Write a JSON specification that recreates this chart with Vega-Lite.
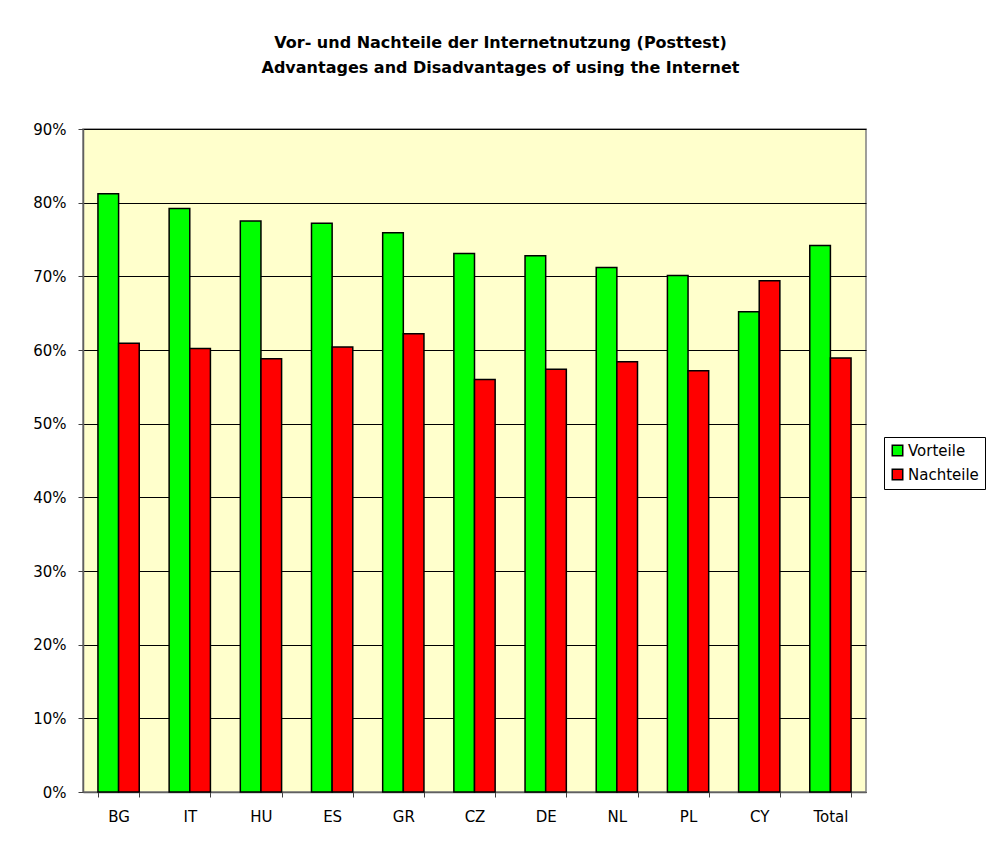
{
  "$schema": "https://vega.github.io/schema/vega-lite/v6.json",
  "width": 783,
  "height": 663,
  "autosize": {"type": "none"},
  "padding": {"left": 83, "top": 129, "right": 134, "bottom": 49},
  "background": "white",
  "title": {
    "text": ["Vor- und Nachteile der Internetnutzung (Posttest)", "Advantages and Disadvantages of using the Internet"],
    "font": "DejaVu Sans",
    "fontSize": 16,
    "fontWeight": "bold",
    "color": "black",
    "lineHeight": 25,
    "anchor": "middle",
    "dx": 26,
    "offset": 46
  },
  "data": {
    "values": [
      {"land": "BG", "typ": "Vorteile", "wert": 0.812},
      {"land": "BG", "typ": "Nachteile", "wert": 0.609},
      {"land": "IT", "typ": "Vorteile", "wert": 0.792},
      {"land": "IT", "typ": "Nachteile", "wert": 0.602},
      {"land": "HU", "typ": "Vorteile", "wert": 0.775},
      {"land": "HU", "typ": "Nachteile", "wert": 0.588},
      {"land": "ES", "typ": "Vorteile", "wert": 0.772},
      {"land": "ES", "typ": "Nachteile", "wert": 0.604},
      {"land": "GR", "typ": "Vorteile", "wert": 0.759},
      {"land": "GR", "typ": "Nachteile", "wert": 0.622},
      {"land": "CZ", "typ": "Vorteile", "wert": 0.731},
      {"land": "CZ", "typ": "Nachteile", "wert": 0.560},
      {"land": "DE", "typ": "Vorteile", "wert": 0.728},
      {"land": "DE", "typ": "Nachteile", "wert": 0.574},
      {"land": "NL", "typ": "Vorteile", "wert": 0.712},
      {"land": "NL", "typ": "Nachteile", "wert": 0.584},
      {"land": "PL", "typ": "Vorteile", "wert": 0.701},
      {"land": "PL", "typ": "Nachteile", "wert": 0.572},
      {"land": "CY", "typ": "Vorteile", "wert": 0.652},
      {"land": "CY", "typ": "Nachteile", "wert": 0.694},
      {"land": "Total", "typ": "Vorteile", "wert": 0.742},
      {"land": "Total", "typ": "Nachteile", "wert": 0.589}
    ]
  },
  "mark": {"type": "bar", "stroke": "black", "strokeWidth": 1.5},
  "encoding": {
    "x": {
      "field": "land",
      "type": "nominal",
      "sort": null,
      "scale": {"paddingInner": 0.42, "paddingOuter": 0.21},
      "axis": {
        "title": null,
        "labelAngle": 0,
        "labelFont": "DejaVu Sans",
        "labelFontSize": 15,
        "labelColor": "black",
        "labelPadding": 12,
        "domainColor": "#606060",
        "domainWidth": 1.5,
        "ticks": true,
        "tickBand": "extent",
        "tickSize": 5,
        "tickColor": "#404040",
        "grid": false
      }
    },
    "xOffset": {
      "field": "typ",
      "type": "nominal",
      "sort": ["Vorteile", "Nachteile"],
      "scale": {"paddingInner": 0, "paddingOuter": 0}
    },
    "y": {
      "field": "wert",
      "type": "quantitative",
      "scale": {"domain": [0, 0.9], "nice": false},
      "axis": {
        "title": null,
        "format": ".0%",
        "values": [0, 0.1, 0.2, 0.3, 0.4, 0.5, 0.6, 0.7, 0.8, 0.9],
        "labelFont": "DejaVu Sans",
        "labelFontSize": 15,
        "labelColor": "black",
        "labelPadding": 12,
        "tickSize": 5,
        "tickColor": "#404040",
        "domainColor": "#606060",
        "domainWidth": 1.5,
        "grid": true,
        "gridColor": "black",
        "gridWidth": 1
      }
    },
    "color": {
      "field": "typ",
      "type": "nominal",
      "sort": ["Vorteile", "Nachteile"],
      "scale": {"domain": ["Vorteile", "Nachteile"], "range": ["#00FF00", "#FF0000"]},
      "legend": {
        "title": null,
        "orient": "none",
        "legendX": 801,
        "legendY": 308,
        "symbolType": "square",
        "symbolSize": 110,
        "symbolStrokeColor": "black",
        "symbolStrokeWidth": 1.5,
        "labelFont": "DejaVu Sans",
        "labelFontSize": 15,
        "labelColor": "black",
        "labelOffset": 3,
        "rowPadding": 7,
        "padding": 6,
        "strokeColor": "black",
        "fillColor": "white"
      }
    }
  },
  "config": {
    "view": {"fill": "#FFFFCC", "stroke": "#808080", "strokeWidth": 1.5}
  }
}
